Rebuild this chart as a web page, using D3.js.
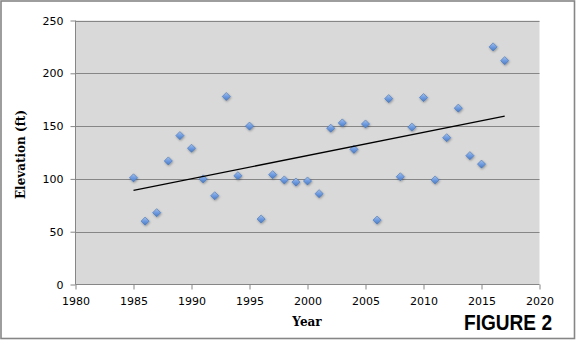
<!DOCTYPE html>
<html>
<head>
<meta charset="utf-8">
<script src="https://cdn.jsdelivr.net/npm/d3@7"></script>
<style>
  html, body { margin: 0; padding: 0; background: #fff; }
  svg { display: block; }
</style>
</head>
<body>
<svg id="chart" width="576" height="340"></svg>
<script>
// Annual elevation readings
const years = [1985, 1986, 1987, 1988, 1989, 1990, 1991, 1992, 1993, 1994, 1995,
               1996, 1997, 1998, 1999, 2000, 2001, 2002, 2003, 2004, 2005, 2006,
               2007, 2008, 2009, 2010, 2011, 2012, 2013, 2014, 2015, 2016, 2017];
const elevation = [101, 60, 68, 117, 141, 129, 100, 84, 178, 103, 150,
                   62, 104, 99, 97, 98, 86, 148, 153, 128, 152, 61,
                   176, 102, 149, 177, 99, 139, 167, 122, 114, 225, 212];
const xTicks = [1980, 1985, 1990, 1995, 2000, 2005, 2010, 2015, 2020];
const yTicks = [0, 50, 100, 150, 200, 250];

const svg = d3.select("#chart");
const W = 576, H = 340;
const plot = { left: 75.5, right: 539.5, top: 20.5, bottom: 284.5 };

// outer frame
svg.append("rect")
  .attr("x", 1).attr("y", 1).attr("width", W - 2.5).attr("height", H - 2.5)
  .attr("fill", "#fff").attr("stroke", "#868686").attr("stroke-width", 1.6);

const x = d3.scaleLinear().domain([1980, 2020]).range([plot.left, plot.right]);
const y = d3.scaleLinear().domain([0, 250]).range([plot.bottom, plot.top]);

// plot area
svg.append("rect")
  .attr("x", plot.left).attr("y", plot.top)
  .attr("width", plot.right - plot.left).attr("height", plot.bottom - plot.top)
  .attr("fill", "#d9d9d9");

// horizontal gridlines
svg.append("g").selectAll("line").data(yTicks.filter(d => d > 0)).join("line")
  .attr("x1", plot.left).attr("x2", plot.right)
  .attr("y1", d => Math.round(y(d)) + 0.5).attr("y2", d => Math.round(y(d)) + 0.5)
  .attr("stroke", "#868686").attr("stroke-width", 1);

// axes
const yAxis = d3.axisLeft(y).tickValues(yTicks).tickSize(5).tickPadding(7);
const xAxis = d3.axisBottom(x).tickValues(xTicks).tickFormat(d3.format("d")).tickSize(5).tickPadding(8);

const gy = svg.append("g").attr("transform", `translate(${plot.left},0)`).call(yAxis);
const gx = svg.append("g").attr("transform", `translate(0,${plot.bottom})`).call(xAxis);
[gx, gy].forEach(g => {
  g.selectAll(".domain, .tick line").attr("stroke", "#868686");
  g.selectAll("text").attr("fill", "#000")
    .style("font-family", "'DejaVu Sans', Verdana, sans-serif").style("font-size", "11px");
});
gy.select(".domain").attr("d", `M0,${plot.top}V${plot.bottom}`);
gx.select(".domain").attr("d", `M${plot.left},0H${plot.right}`);

// linear trendline (least squares)
const n = years.length;
const mx = d3.mean(years), my = d3.mean(elevation);
let sxy = 0, sxx = 0;
for (let i = 0; i < n; i++) {
  sxy += (years[i] - mx) * (elevation[i] - my);
  sxx += (years[i] - mx) ** 2;
}
const slope = sxy / sxx, intercept = my - slope * mx;
const x0 = d3.min(years), x1 = d3.max(years);

// markers
const defs = svg.append("defs");
const grad = defs.append("linearGradient").attr("id", "mk").attr("x1", 0).attr("y1", 0).attr("x2", 0).attr("y2", 1);
grad.append("stop").attr("offset", "0%").attr("stop-color", "#a4c2ec");
grad.append("stop").attr("offset", "50%").attr("stop-color", "#6f9be0");
grad.append("stop").attr("offset", "100%").attr("stop-color", "#4a7cc4");
const sh = defs.append("filter").attr("id", "shadow").attr("x", "-50%").attr("y", "-50%").attr("width", "200%").attr("height", "200%");
sh.append("feDropShadow").attr("dx", 0.6).attr("dy", 1).attr("stdDeviation", 0.8)
  .attr("flood-color", "#000").attr("flood-opacity", 0.35);

const diamond = d3.symbol().type(d3.symbolDiamond2).size(42);
svg.append("g").selectAll("path").data(years.map((yr, i) => [yr, elevation[i]])).join("path")
  .attr("d", diamond)
  .attr("transform", d => `translate(${x(d[0])},${y(d[1])})`)
  .attr("fill", "url(#mk)")
  .attr("stroke", "#4674b5").attr("stroke-width", 0.6)
  .attr("filter", "url(#shadow)");

svg.append("line")
  .attr("x1", x(x0)).attr("y1", y(intercept + slope * x0))
  .attr("x2", x(x1)).attr("y2", y(intercept + slope * x1))
  .attr("stroke", "#000").attr("stroke-width", 1.3);

// axis titles
svg.append("text")
  .attr("transform", `translate(25,${(plot.top + plot.bottom) / 2 + 2}) rotate(-90)`)
  .attr("text-anchor", "middle")
  .style("font-family", "'DejaVu Serif', Cambria, serif").style("font-weight", "bold").style("font-size", "12px")
  .text("Elevation (ft)");

svg.append("text")
  .attr("x", 307).attr("y", 326)
  .attr("text-anchor", "middle")
  .style("font-family", "'DejaVu Serif', Cambria, serif").style("font-weight", "bold").style("font-size", "12px")
  .text("Year");

// figure label
svg.append("text")
  .attr("x", 464).attr("y", 329.5)
  .attr("textLength", 88).attr("lengthAdjust", "spacingAndGlyphs")
  .style("font-family", "'Liberation Sans Narrow', 'Arial Narrow', 'Liberation Sans', Arial, sans-serif")
  .style("font-weight", "bold").style("font-size", "22px")
  .text("FIGURE 2");
</script>
</body>
</html>
